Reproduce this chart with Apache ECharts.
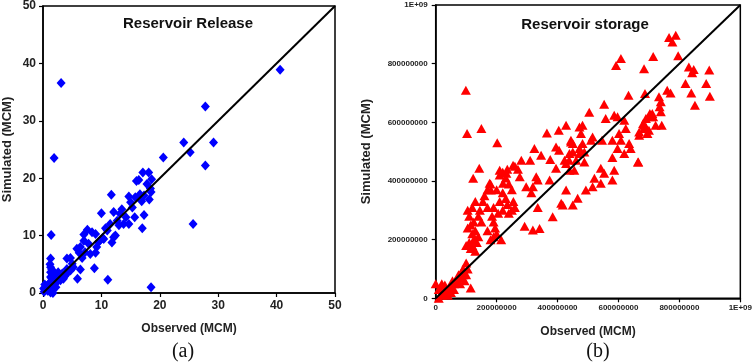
<!DOCTYPE html>
<html>
<head>
<meta charset="utf-8">
<script src="https://cdn.jsdelivr.net/npm/echarts@6/dist/echarts.min.js"></script>
<style>html,body{margin:0;padding:0;background:#fff;}#c{width:755px;height:362px;}</style>
</head>
<body>
<div id="c"></div>
<script>
// ---- Data: Reservoir Release (MCM) [observed, simulated]
const releasePoints = [
[40.6,38.9],[3.1,36.6],[27.8,32.5],[24.1,26.2],[29.2,26.2],[25.2,24.5],[20.6,23.6],[1.9,23.5],[27.8,22.2],[25.7,12.0],[18.5,1.0],[11.1,2.3],[1.4,10.1],[11.7,17.1],[10.0,13.9],[8.8,4.3],[5.9,2.5],[6.4,4.1],[17.3,13.6],[17.0,11.3],[15.7,13.2],
[17.1,21.0],[18.1,21.0],[16.4,19.7],[18.6,19.8],[17.8,19.0],[18.5,17.6],[18.2,16.3],[16.6,17.2],[15.8,16.7],[15.0,15.8],[14.7,16.8],[17.3,17.0],[16.0,19.5],[18.4,18.2],[16.9,16.0],
[12.1,14.1],[13.5,14.6],[13.2,13.8],[12.7,12.6],[13.8,12.0],[14.7,12.0],[12.4,10.0],[12.1,9.7],[11.8,8.8],[11.5,12.0],[11.0,10.9],[10.7,11.3],[10.4,9.4],[13.0,11.8],[14.2,13.2],[15.3,14.9],
[7.6,11.0],[8.4,10.6],[7.0,10.2],[9.0,10.3],[7.0,9.1],[7.8,8.6],[9.2,8.0],[9.5,8.9],[9.0,7.0],[8.1,6.8],[7.2,7.1],[6.4,8.0],[5.8,7.7],[4.7,6.1],[6.7,6.1],[4.1,6.0],[5.0,5.1],[10.2,9.6],[9.8,9.2],[6.2,7.0],
[1.3,6.0],[1.3,4.5],[1.3,3.6],[1.3,2.8],[1.3,1.9],[1.3,1.0],[1.3,0.1],[0.7,1.0],[0.4,0.5],[1.8,1.3],[2.4,1.9],[3.0,2.2],[2.7,2.8],[2.1,3.4],[3.5,2.5],[4.1,3.4],[3.3,3.4],[4.7,3.9],[5.2,4.5],[4.1,4.2],[0.1,0.8],[1.0,1.6],[1.5,2.5],[0.2,0.2],[0.5,1.2],[0.8,0.4],[1.6,3.2],[2.0,2.4],[2.6,3.6],[3.8,3.0],[0.3,1.5],[1.1,0.5],[1.7,0.0],[2.2,1.0],[1.5,4.1],[1.2,5.0]
];
// ---- Data: Reservoir storage [observed, simulated]
const storagePoints = [
[99e6,709e6],[103e6,562e6],[150e6,579e6],[202e6,530e6],[143e6,443e6],[123e6,409e6],
[766e6,889e6],[788e6,897e6],[777e6,874e6],[796e6,827e6],[714e6,824e6],[608e6,818e6],[592e6,794e6],[684e6,783e6],[831e6,789e6],[847e6,780e6],[842e6,769e6],[898e6,778e6],[820e6,732e6],[888e6,732e6],[900e6,689e6],[839e6,700e6],[851e6,658e6],[760e6,709e6],[771e6,700e6],[633e6,692e6],[687e6,698e6],
[739e6,670e6],[735e6,653e6],[739e6,636e6],[742e6,590e6],[703e6,630e6],[714e6,619e6],[690e6,613e6],[684e6,590e6],[700e6,573e6],[668e6,556e6],[665e6,465e6],[681e6,596e6],[690e6,584e6],[706e6,619e6],
[586e6,624e6],[597e6,619e6],[553e6,662e6],[558e6,613e6],[546e6,539e6],[504e6,634e6],[482e6,590e6],[515e6,550e6],[428e6,590e6],[365e6,564e6],[404e6,573e6],[395e6,516e6],[324e6,511e6],[346e6,488e6],[472e6,494e6],[450e6,528e6],[438e6,471e6],
[281e6,471e6],[254e6,454e6],[210e6,437e6],[232e6,426e6],[297e6,380e6],[319e6,380e6],[314e6,360e6],[330e6,414e6],[177e6,392e6],[181e6,369e6],[221e6,392e6],
[335e6,310e6],[319e6,233e6],[341e6,238e6],[384e6,278e6],[292e6,246e6],[412e6,324e6],[428e6,369e6],[450e6,318e6],[466e6,341e6],[493e6,369e6],
[515e6,380e6],[521e6,409e6],[542e6,392e6],[553e6,426e6],[542e6,443e6],[580e6,403e6],[586e6,437e6],[376e6,473e6],[405e6,505e6],[439e6,494e6],[428e6,460e6],[439e6,437e6],[335e6,403e6],[374e6,403e6],[395e6,443e6],[276e6,414e6],
[580e6,539e6],[608e6,539e6],[602e6,562e6],[624e6,579e6],[597e6,511e6],[619e6,494e6],[635e6,528e6],[640e6,511e6],[664e6,465e6],[580e6,480e6],[619e6,607e6],[668e6,567e6],[695e6,562e6],[684e6,579e6],[711e6,630e6],[722e6,590e6],[733e6,687e6],
[472e6,584e6],[477e6,562e6],[510e6,539e6],[482e6,528e6],[444e6,533e6],[472e6,511e6],[450e6,499e6],[461e6,471e6],[488e6,465e6],[423e6,471e6],[455e6,437e6],[488e6,499e6],[417e6,318e6],[444e6,539e6],[310e6,471e6],
[105e6,300e6],[110e6,280e6],[115e6,250e6],[105e6,240e6],[120e6,220e6],[125e6,200e6],[110e6,190e6],[115e6,170e6],[130e6,160e6],[100e6,180e6],[120e6,180e6],[135e6,190e6],[140e6,210e6],[130e6,230e6],[125e6,260e6],[120e6,310e6],[140e6,280e6],[150e6,260e6],[145e6,300e6],[130e6,330e6],[155e6,330e6],[160e6,350e6],[170e6,370e6],[180e6,390e6],[170e6,310e6],[185e6,280e6],[190e6,260e6],[195e6,240e6],[200e6,220e6],[190e6,210e6],[215e6,200e6],[205e6,290e6],[190e6,310e6],[210e6,330e6],[200e6,370e6],[220e6,360e6],[230e6,340e6],[220e6,300e6],[235e6,320e6],[240e6,290e6],[250e6,300e6],[255e6,330e6],[260e6,310e6],[240e6,390e6],[250e6,370e6],[230e6,410e6],[220e6,430e6],[210e6,420e6],[235e6,440e6],[260e6,450e6],[270e6,440e6],[180e6,200e6],[170e6,230e6],
[0,50e6],[10e6,0],[20e6,10e6],[20e6,40e6],[30e6,20e6],[40e6,30e6],[50e6,40e6],[60e6,50e6],[70e6,60e6],[80e6,70e6],[90e6,80e6],[100e6,80e6],[100e6,120e6],[90e6,100e6],[85e6,90e6],[75e6,80e6],[65e6,60e6],[50e6,20e6],[40e6,10e6],[30e6,45e6],[60e6,30e6],[115e6,35e6],[10e6,30e6],[20e6,50e6],[80e6,50e6],[95e6,60e6],[105e6,100e6],[55e6,60e6]
];
// 1:1 lines
const releaseLine = [[0,0],[50,50]];
const storageLine = [[0,0],[1e9,1e9]];
// axis ticks
const releaseMax = 50, releaseStep = 10;
const storageMax = 1e9, storageStep = 2e8;

const chart = echarts.init(document.getElementById('c'), null, {renderer:'canvas'});
const sans = '"Liberation Sans", Arial, sans-serif';
const storageFmt = v => v >= 1e9 ? '1E+09' : v.toFixed(0);
function axisCommon(fs, margin, fmt, nameFs){
  const label = {fontFamily:sans, fontWeight:'bold', fontSize:fs, color:'#222', margin:margin};
  if (fmt) label.formatter = fmt;
  return {
    axisLine:{show:true, lineStyle:{color:'#000', width:1.5}},
    axisTick:{show:true, inside:false, length:4, lineStyle:{color:'#000', width:1.2}},
    splitLine:{show:false},
    axisLabel:label,
    nameTextStyle:{fontFamily:sans, fontWeight:'bold', color:'#222', fontSize:nameFs}
  };
}
chart.setOption({
  animation:false,
  title:[
    {text:'Reservoir Release', left:183, top:11, textAlign:'center', textStyle:{fontFamily:sans, fontWeight:'bold', fontSize:15, color:'#111'}},
    {text:'Reservoir storage', left:580, top:12, textAlign:'center', textStyle:{fontFamily:sans, fontWeight:'bold', fontSize:15, color:'#111'}}
  ],
  grid:[
    {left:42.7, top:4, width:292.3, height:289, show:true, borderColor:'#000', borderWidth:1.5, containLabel:false},
    {left:435.7, top:5, width:306, height:293.3, show:true, borderColor:'#000', borderWidth:1.5, containLabel:false}
  ],
  xAxis:[
    Object.assign(axisCommon(12, 7, null, 12), {gridIndex:0, type:'value', min:0, max:releaseMax, interval:releaseStep,
      name:'Observed (MCM)', nameLocation:'middle', nameGap:30}),
    Object.assign(axisCommon(8, 5, storageFmt, 12), {gridIndex:1, type:'value', min:0, max:storageMax, interval:storageStep,
      name:'Observed (MCM)', nameLocation:'middle', nameGap:27})
  ],
  yAxis:[
    Object.assign(axisCommon(12, 7, null, 13), {gridIndex:0, type:'value', min:0, max:releaseMax, interval:releaseStep,
      name:'Simulated (MCM)', nameLocation:'middle', nameGap:29}),
    Object.assign(axisCommon(8, 8, storageFmt, 13), {gridIndex:1, type:'value', min:0, max:storageMax, interval:storageStep,
      name:'Simulated (MCM)', nameLocation:'middle', nameGap:63})
  ],
  graphic:[
    {type:'text', x:183, y:352, style:{text:'(a)', font:'20px "Liberation Serif", serif', fill:'#111', align:'center', verticalAlign:'middle'}},
    {type:'text', x:598, y:352, style:{text:'(b)', font:'20px "Liberation Serif", serif', fill:'#111', align:'center', verticalAlign:'middle'}}
  ],
  series:[
    {type:'scatter', xAxisIndex:0, yAxisIndex:0, data:releasePoints, symbol:'diamond', symbolSize:[9,10],
      itemStyle:{color:'#0000ff', opacity:1}, z:2},
    {type:'line', xAxisIndex:0, yAxisIndex:0, data:releaseLine, symbol:'none', lineStyle:{color:'#000', width:2}, z:3},
    {type:'scatter', xAxisIndex:1, yAxisIndex:1, data:storagePoints, symbol:'triangle', symbolSize:[10,9],
      itemStyle:{color:'#ff0000', opacity:1}, z:2},
    {type:'line', xAxisIndex:1, yAxisIndex:1, data:storageLine, symbol:'none', lineStyle:{color:'#000', width:2}, z:3}
  ]
});
</script>
</body>
</html>
